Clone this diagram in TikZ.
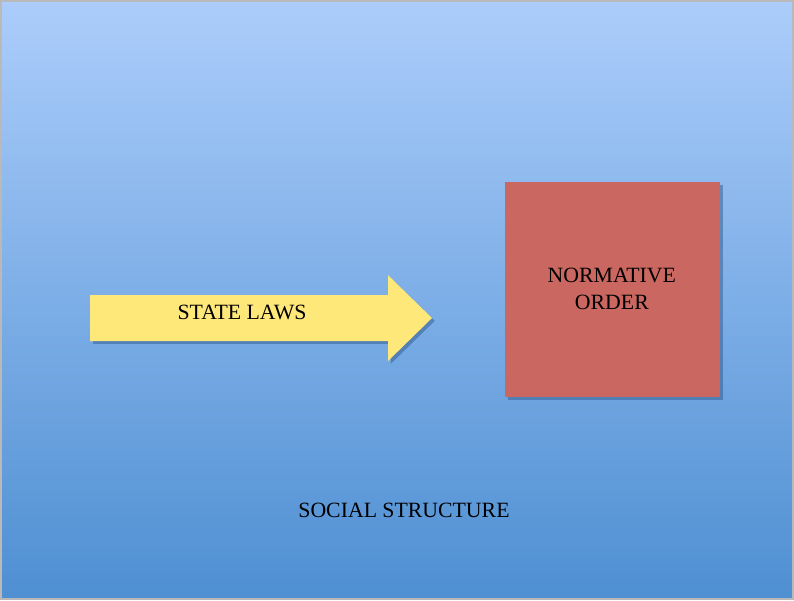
\documentclass[tikz,border=0pt]{standalone}
\usepackage{fontspec}
\setmainfont{Liberation Serif}
\usetikzlibrary{shadows}
\definecolor{slideTop}{RGB}{172,205,251}
\definecolor{slideBottom}{RGB}{78,143,210}
\definecolor{lawsYellow}{RGB}{255,232,122}
\definecolor{orderRed}{RGB}{201,103,96}
\definecolor{shadowBlue}{RGB}{40,80,130}
\tikzset{
  softshadow/.style={drop shadow={shadow xshift=2pt, shadow yshift=-2pt, opacity=0.45, fill=shadowBlue}},
  label text/.style={font=\fontsize{15.5}{19}\selectfont, text=black, align=center}
}
\begin{document}
\begin{tikzpicture}[x=0.025cm, y=-0.025cm]
            % background slide
            \shade[top color=slideTop, bottom color=slideBottom] (0,0) rectangle (794,600);
            \draw[gray!55, line width=1.2pt] (0.6,0.6) rectangle (793.4,599.4);
            % yellow arrow
            \fill[lawsYellow, softshadow] (90,295) -- (388,295) -- (388,275) -- (432,318)
                -- (388,361) -- (388,341) -- (90,341) -- cycle;
            \node[label text] (laws) at (242,312) {STATE LAWS};
            % red square
            \node[fill=orderRed, minimum size=215*0.025cm, inner sep=0pt, softshadow] (order) at (612.5,289.5) {};
            \node[label text] (ordertext) at (612,289) {NORMATIVE\\ORDER};
            % bottom caption
            \node[label text] (social) at (404,510) {SOCIAL STRUCTURE};
        \end{tikzpicture}
\end{document}
